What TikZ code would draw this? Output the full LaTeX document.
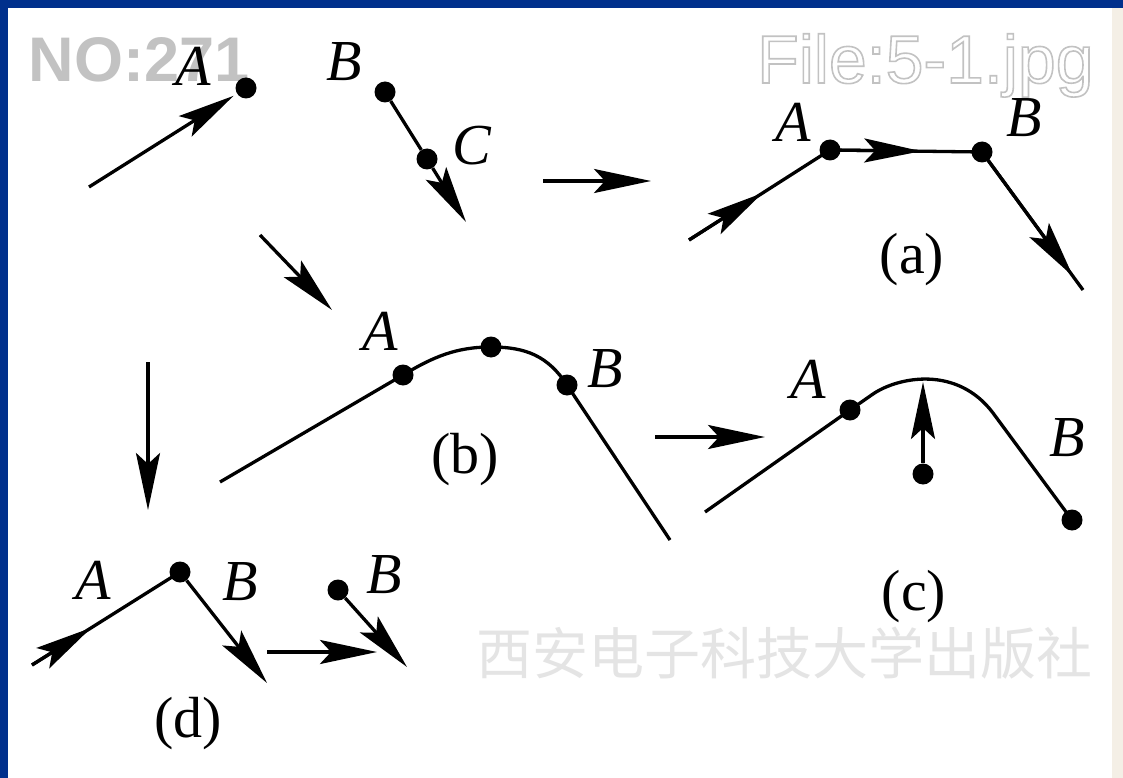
\documentclass[tikz,border=0pt]{standalone}
\usepackage{fontspec}
\setmainfont{Liberation Serif}
\newfontfamily\wmfont{Liberation Sans}
\newfontfamily\cjk{Noto Sans CJK SC}
\usepackage{tikz}
\usetikzlibrary{arrows.meta,positioning,calc}
\definecolor{frameblue}{HTML}{00308C}
\definecolor{paper}{HTML}{F4EFE6}
\definecolor{wmgray}{HTML}{C2C2C2}
\definecolor{wmlight}{HTML}{E4E4E4}
\newcommand{\hollowtext}[1]{\special{pdf:literal 1 Tr 1.6 w 0.76 0.76 0.76 RG}#1\special{pdf:literal 0 Tr}}
\tikzset{
  tjdot/.style={circle, fill=black, inner sep=0pt, minimum size=21pt},
  tjline/.style={line width=3.3pt},
  tjarrow/.style={-{Stealth[length=57pt, width=24pt, inset=11pt]}, line width=3.3pt},
  tjlabel/.style={font=\fontsize{58}{62}\selectfont\itshape, inner sep=0pt},
  tjcap/.style={font=\fontsize{58}{62}\selectfont, inner sep=0pt},
}

\begin{document}
\begin{tikzpicture}[x=1pt, y=-1pt]
  % frame and paper
  \fill[frameblue] (0,0) rectangle (1123,778);
  \fill[paper] (8,8) rectangle (1123,778);
  \fill[white] (8,8) rectangle (1112,778);
  \useasboundingbox (0,0) rectangle (1123,778);

  % watermarks
  \node[text=wmgray, font=\wmfont\bfseries\fontsize{63}{63}\selectfont, inner sep=0pt] (wmno) at (139,60) {NO:271};
  \node[anchor=base west, font=\wmfont\fontsize{68}{68}\selectfont, inner sep=0pt] (wmfile) at (757,83)
    {\hollowtext{File:5-1.jpg}};
  \node[text=wmlight, font=\cjk\fontsize{56}{56}\selectfont, inner sep=0pt] (wmpub) at (784,653) {西安电子科技大学出版社};

  % start
  \node[tjdot] (A0) at (246,88) {};
  \node[tjdot] (B0) at (385,92) {};
  \node[tjdot] (C0) at (427,159) {};
  \coordinate (s0) at (89,187);
  \coordinate (e0) at (466,222);
  \node[tjlabel] (lA0) at (193,66) {A};
  \node[tjlabel] (lB0) at (344,62) {B};
  \node[tjlabel] (lC0) at (472,146) {C};
  \draw[tjarrow, shorten >=4pt] (s0) -- (A0);
  \draw[tjline] (B0) -- (C0);
  \draw[tjarrow] (C0) -- (e0);

  % (a)
  \node[tjdot] (Aa) at (830,150) {};
  \node[tjdot] (Ba) at (982,152) {};
  \coordinate (sa) at (689,240);
  \coordinate (ea) at (1083,290);
  \draw[tjline] (sa) -- (Aa.center) -- (Ba.center) -- (ea);
  \draw[tjarrow] (sa) -- ($(sa)!0.52!(Aa)$);
  \draw[tjarrow] (Aa) -- ($(Aa)!0.6!(Ba)$);
  \draw[tjarrow] (Ba) -- ($(Ba)!0.9!(ea)$);
  \node[tjlabel] (lAa) at (793,122) {A};
  \node[tjlabel] (lBa) at (1024,118) {B};
  \node[tjcap] (capa) at (912,260) {(a)};

  % (b)
  \node[tjdot] (Ab) at (403,375) {};
  \node[tjdot] (Mb) at (491,347) {};
  \node[tjdot] (Bb) at (567,385) {};
  \coordinate (sb) at (220,482);
  \coordinate (eb) at (670,540);
  \draw[tjline] (sb) -- (Ab.center) .. controls (433,357) and (456,347) .. (Mb.center)
    .. controls (526,347) and (548,356) .. (Bb.center) -- (eb);
  \node[tjlabel] (lAb) at (380,331) {A};
  \node[tjlabel] (lBb) at (605,369) {B};
  \node[tjcap] (capb) at (465,460) {(b)};

  % (c)
  \node[tjdot] (Ac) at (850,410) {};
  \node[tjdot] (Bc) at (1072,520) {};
  \node[tjdot] (Pc) at (923,474) {};
  \coordinate (sc) at (705,512);
  \coordinate (Tc) at (923,382);
  \draw[tjline] (sc) -- (Ac.center) -- (873,394) .. controls (898,377) and (957,365) .. (993,413) -- (Bc.center);
  \draw[tjarrow] (Pc) -- (Tc);
  \node[tjlabel] (lAc) at (808,379) {A};
  \node[tjlabel] (lBc) at (1067,438) {B};
  \node[tjcap] (capc) at (914,597) {(c)};

  % (d)
  \node[tjdot] (Ad) at (180,572) {};
  \node[tjdot] (Bd) at (338,590) {};
  \coordinate (sd) at (32,665);
  \coordinate (ed) at (267,683);
  \coordinate (fd) at (407,667);
  \draw[tjline] (sd) -- (Ad.center);
  \draw[tjarrow] (sd) -- ($(sd)!0.4!(Ad)$);
  \draw[tjarrow] (Ad) -- (ed);
  \draw[tjarrow] (Bd) -- (fd);
  \node[tjlabel] (lAd) at (93,580) {A};
  \node[tjlabel] (lBd) at (240,582) {B};
  \node[tjlabel] (lBd2) at (384,575) {B};
  \node[tjcap] (capd) at (188,724) {(d)};

  % steps between the states
  \coordinate (t1s) at (260,235);
  \coordinate (t1e) at (332,310);
  \coordinate (t2s) at (543,181);
  \coordinate (t2e) at (651,181);
  \coordinate (t3s) at (148,362);
  \coordinate (t3e) at (148,510);
  \coordinate (t4s) at (655,437);
  \coordinate (t4e) at (765,437);
  \coordinate (t5s) at (267,652);
  \coordinate (t5e) at (377,652);
  \draw[tjarrow] (t1s) -- (t1e);
  \draw[tjarrow] (t2s) -- (t2e);
  \draw[tjarrow] (t3s) -- (t3e);
  \draw[tjarrow] (t4s) -- (t4e);
  \draw[tjarrow] (t5s) -- (t5e);
\end{tikzpicture}
\end{document}
